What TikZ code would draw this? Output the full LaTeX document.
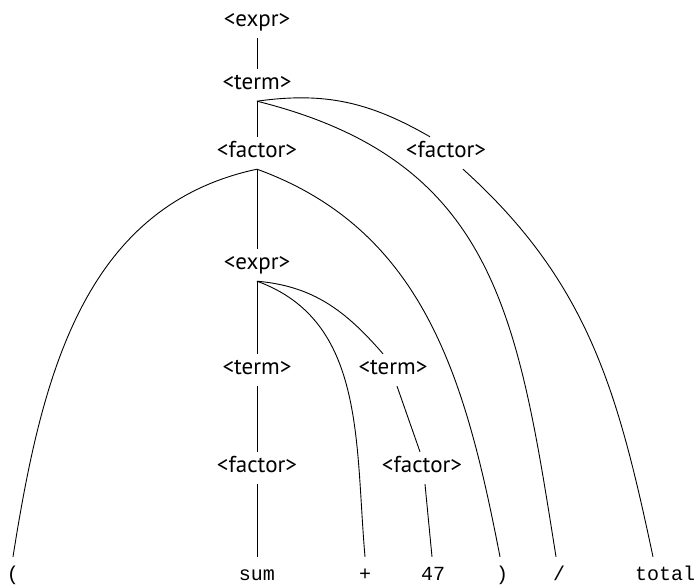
\documentclass[tikz,border=0pt]{standalone}
\usepackage{fontspec}
\setmainfont{PT Sans}
\setmonofont{Liberation Mono}
\begin{document}
\begin{tikzpicture}[x=1pt,y=1pt,
  nt/.style={anchor=base, font=\fontsize{23}{26}\selectfont, text height=16pt, text depth=6pt, inner ysep=5pt, inner xsep=0pt},
  tm/.style={anchor=base, font=\fontsize{20}{22}\ttfamily, text height=11pt, text depth=0pt, inner ysep=12pt, inner xsep=0pt},
  edge/.style={line width=0.9pt}]
\useasboundingbox (0,0) rectangle (699,584);
% nonterminals
\node[nt] (e1) at (257,557) {<expr>};
\node[nt] (t1) at (257,494) {<term>};
\node[nt] (f1) at (257,426) {<factor>};
\node[nt] (f2) at (446,426) {<factor>};
\node[nt] (e2) at (257,314) {<expr>};
\node[nt] (t2) at (257,209) {<term>};
\node[nt] (t3) at (393,209) {<term>};
\node[nt] (f3) at (257,111) {<factor>};
\node[nt] (f4) at (422,111) {<factor>};
% terminals
\node[tm] (lp) at (13,4) {(};
\node[tm] (sum) at (257,4) {sum};
\node[tm] (plus) at (365,4) {+};
\node[tm] (n47) at (433,4) {47};
\node[tm] (rp) at (502,4) {)};
\node[tm] (sl) at (559,4) {/};
\node[tm] (tot) at (665,4) {total};
% connectors
\begin{scope}[edge]
\draw (e1.south) -- (t1.north);
\draw (t1.south) -- (f1.north);
\draw (t1.south) to[out=8,in=150] ([xshift=-16pt]f2.north);
\draw (t1.south) to[out=-14,in=99,looseness=1.15] ([xshift=-3pt]sl.north);
\draw ([xshift=17pt]f2.south) to[out=-42,in=102] ([xshift=-12pt]tot.north);
\draw (f1.south) -- (e2.north);
\draw (f1.south) to[out=192,in=81] (lp.north);
\draw (f1.south) to[out=-20,in=101] ([xshift=-2pt]rp.north);
\draw (e2.south) -- (t2.north);
\draw (e2.south) to[out=-20,in=95] (plus.north);
\draw (e2.south) to[out=-5,in=131] ([xshift=-10pt]t3.north);
\draw ([xshift=4pt]t3.south) -- ([xshift=-2pt]f4.north);
\draw (t2.south) -- (f3.north);
\draw (f3.south) -- (sum.north);
\draw ([xshift=3pt]f4.south) -- ([xshift=-1pt]n47.north);
\end{scope}
\end{tikzpicture}
\end{document}
